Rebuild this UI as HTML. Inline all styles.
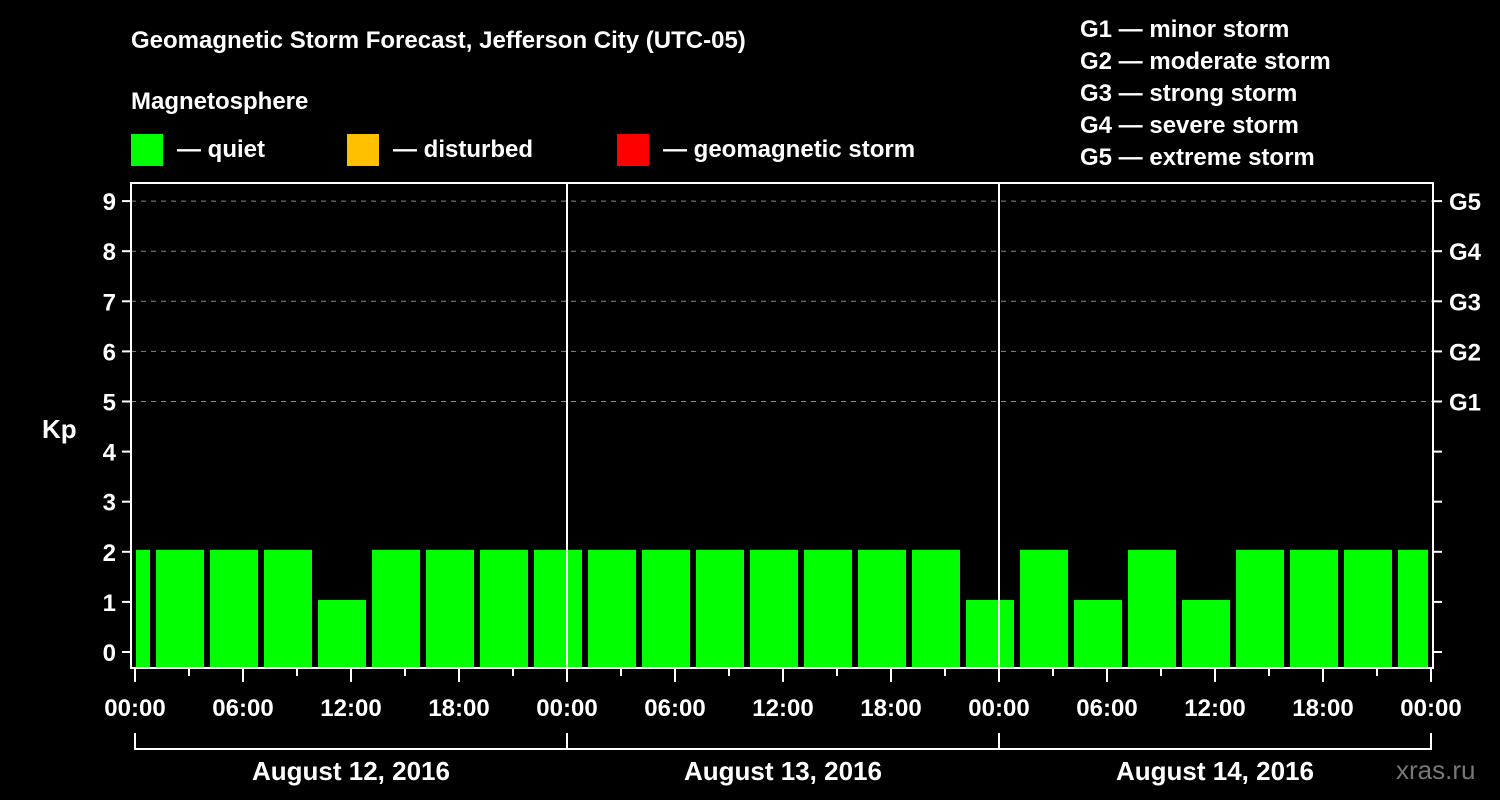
<!DOCTYPE html>
<html><head><meta charset="utf-8"><style>
body{margin:0;background:#000;}
svg{display:block;font-family:"Liberation Sans",sans-serif;font-weight:bold;}
</style></head><body>
<svg id="c" width="1500" height="800" xmlns="http://www.w3.org/2000/svg">
<rect width="1500" height="800" fill="#000"/>
<text x="131" y="48" fill="#fff" font-size="24">Geomagnetic Storm Forecast, Jefferson City (UTC-05)</text>
<text x="131" y="109" fill="#fff" font-size="24">Magnetosphere</text>
<g><rect x="131" y="134" width="32" height="32" fill="#00ff00"/><text x="177" y="157" fill="#fff" font-size="24">— quiet</text></g>
<g><rect x="347" y="134" width="32" height="32" fill="#ffc000"/><text x="393" y="157" fill="#fff" font-size="24">— disturbed</text></g>
<g><rect x="617" y="134" width="32" height="32" fill="#ff0000"/><text x="663" y="157" fill="#fff" font-size="24">— geomagnetic storm</text></g>
<g fill="#fff" font-size="24">
<text x="1080" y="37">G1 — minor storm</text>
<text x="1080" y="69">G2 — moderate storm</text>
<text x="1080" y="101">G3 — strong storm</text>
<text x="1080" y="133">G4 — severe storm</text>
<text x="1080" y="165">G5 — extreme storm</text>
</g>
<text x="42" y="438" fill="#fff" font-size="26">Kp</text>
<text x="1396" y="779" fill="#777" font-size="26" font-weight="normal">xras.ru</text>
<g id="plot"></g>
</svg>
<script>
const kpValues=[2,2,2,2,1,2,2,2,2,2,2,2,2,2,2,2,1,2,1,2,1,2,2,2,2];
const binStartHours=[-2,1,4,7,10,13,16,19,22,25,28,31,34,37,40,43,46,49,52,55,58,61,64,67,70];
const dayLabels=["August 12, 2016","August 13, 2016","August 14, 2016"];
const timeLabels=["00:00","06:00","12:00","18:00"];
const gLabels=["G1","G2","G3","G4","G5"];
const NS="http://www.w3.org/2000/svg";
const g=document.getElementById('plot');
const X0=135,PX_H=18,TOTAL_H=72,Y0=652,PX_KP=50.1;
const L=131,R=1433,T=183,B=668;
const x=h=>X0+h*PX_H;
const y=k=>Y0-k*PX_KP;
function mk(tag,attrs){const e=document.createElementNS(NS,tag);for(const k in attrs)e.setAttribute(k,attrs[k]);g.appendChild(e);return e;}
// grid
for(let k=5;k<=9;k++){const e=mk('line',{x1:L,x2:R,y1:y(k),y2:y(k),stroke:'#888','stroke-width':1,'stroke-dasharray':'5,5'});

}
// bars
kpValues.forEach((v,i)=>{let a=x(binStartHours[i])+3,b=x(binStartHours[i]+3)-3;a=Math.max(a,136);b=Math.min(b,1428);
const top=y(v)-2;
const e=mk('rect',{x:a,y:top,width:b-a,height:B-top,fill:v>=5?'#ff0000':(v>=4?'#ffc000':'#00ff00')});

});
// day separators
for(let d=1;d<3;d++){const e=mk('line',{x1:x(d*24),x2:x(d*24),y1:T,y2:B,stroke:'#fff','stroke-width':2});

}
// frame
const fr=mk('rect',{x:L,y:T,width:R-L,height:B-T,fill:'none',stroke:'#fff','stroke-width':2});


// y ticks & labels
for(let k=0;k<=9;k++){
mk('line',{x1:L-9,x2:L,y1:y(k),y2:y(k),stroke:'#fff','stroke-width':2});
mk('line',{x1:R,x2:R+9,y1:y(k),y2:y(k),stroke:'#fff','stroke-width':2});
const t=mk('text',{x:L-15,y:y(k)+9,fill:'#fff','font-size':24,'text-anchor':'end'});t.textContent=k;


if(k>=5){const gt=mk('text',{x:1449,y:y(k)+9,fill:'#fff','font-size':24});gt.textContent=gLabels[k-5];

}
}
// x ticks
for(let h=0;h<=TOTAL_H;h+=3){const major=h%6===0;
mk('line',{x1:x(h),x2:x(h),y1:B,y2:B+(major?14:8),stroke:'#fff','stroke-width':2});
if(major){const t=mk('text',{x:x(h),y:716,fill:'#fff','font-size':24,'text-anchor':'middle'});t.textContent=(h===TOTAL_H)?"00:00":timeLabels[(h%24)/6];

}}
// day brackets
mk('line',{x1:x(0),x2:x(TOTAL_H),y1:749,y2:749,stroke:'#fff','stroke-width':2});
for(let d=0;d<=3;d++)mk('line',{x1:x(d*24),x2:x(d*24),y1:733,y2:750,stroke:'#fff','stroke-width':2});
dayLabels.forEach((s,d)=>{const t=mk('text',{x:x(d*24+12),y:780,fill:'#fff','font-size':26,'text-anchor':'middle'});t.textContent=s;

});
</script>
</body></html>
